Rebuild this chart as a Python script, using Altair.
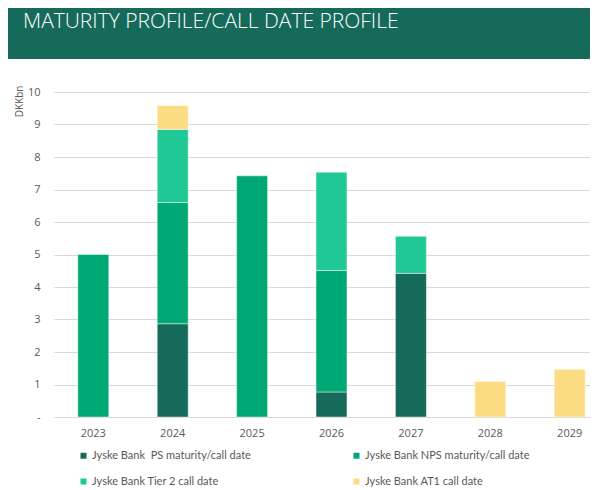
import altair as alt
import pandas as pd

years = ["2023", "2024", "2025", "2026", "2027", "2028", "2029"]
series = [
    "Jyske Bank\u00a0 PS maturity/call date",
    "Jyske Bank NPS maturity/call date",
    "Jyske Bank Tier 2 call date",
    "Jyske Bank AT1 call date",
]
ps = [0, 2.87, 0, 0.77, 4.42, 0, 0]
nps = [5.0, 3.73, 7.42, 3.74, 0, 0, 0]
tier2 = [0, 2.25, 0, 3.02, 1.14, 0, 0]
at1 = [0, 0.73, 0, 0, 0, 1.09, 1.47]
colors = ["#156a59", "#00a875", "#20c896", "#fcdc82"]
title_text = "MATURITY PROFILE/CALL DATE PROFILE"

rows = []
for si, vals in enumerate([ps, nps, tier2, at1]):
    for y, v in zip(years, vals):
        if v > 0:
            rows.append({"year": y, "series": series[si], "order": si, "value": v})
df = pd.DataFrame(rows)

W, H = 536, 325
FONT = "Open Sans"
LFONT = "Lato"

bars = alt.Chart(df).mark_bar(stroke="#ffffff", strokeOpacity=0.45, strokeWidth=1).encode(
    x=alt.X("year:N", sort=years,
            scale=alt.Scale(domain=years, range=[0, 555], paddingInner=0.61, paddingOuter=0.3),
            axis=alt.Axis(title=None, labelAngle=0, ticks=False, domain=False, grid=False,
                          labelPadding=10, labelFontSize=11, labelColor="#595959", labelFont=FONT)),
    y=alt.Y("value:Q", stack="zero",
            scale=alt.Scale(domain=[0, 10], nice=False),
            axis=alt.Axis(title="DKKbn", values=list(range(0, 11)), ticks=False, domain=False,
                          labelPadding=14, labelFontSize=11, labelColor="#595959", labelFont=FONT,
                          labelExpr="datum.value == 0 ? '-' : datum.label",
                          gridColor="#d9d9d9", gridWidth=1,
                          titleFont=FONT, titleFontSize=10, titleFontWeight="normal", titleColor="#595959",
                          titleAngle=-90, titleX=-35, titleY=-7, titleAlign="right", titleBaseline="middle")),
    color=alt.Color("series:N", sort=series,
                    scale=alt.Scale(domain=series, range=colors),
                    legend=alt.Legend(title=None, orient="none", legendX=24, legendY=358, columns=2,
                                      direction="horizontal",
                                      columnPadding=100, rowPadding=14, symbolType="square",
                                      symbolSize=36, symbolStrokeWidth=0, labelFontSize=11,
                                      labelColor="#595959", labelFont=LFONT, labelLimit=300,
                                      labelOffset=3)),
    order=alt.Order("order:Q"),
)

header = alt.Chart(pd.DataFrame({"t": [title_text]})).mark_rect(color="#156a59").encode(
    x=alt.value(-46), x2=alt.value(W), y=alt.value(-84), y2=alt.value(-33)
)
title = alt.Chart(pd.DataFrame({"t": [title_text]})).mark_text(
    align="left", baseline="alphabetic", color="#ffffff", font=FONT, fontSize=21, fontWeight=300
).encode(x=alt.value(-31), y=alt.value(-64), text="t:N")

chart = alt.layer(header, title, bars).properties(
    width=W, height=H, background="#ffffff",
    autosize=alt.AutoSizeParams(type="none"),
    padding={"left": 46, "top": 84, "right": 0, "bottom": 73},
).configure_view(stroke=None)

chart.save("out.html", embed_options={"renderer": "svg", "actions": False})
